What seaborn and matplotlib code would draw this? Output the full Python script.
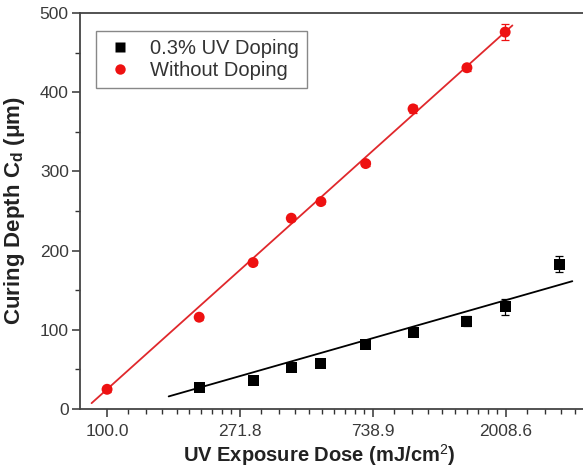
# Libraries
# =====================================================================
import numpy as np
import pandas as pd
import seaborn as sns
import matplotlib.pyplot as plt
import matplotlib.ticker as ticker
from matplotlib.lines import Line2D

# Data
# =====================================================================
dose_red = [100, 200, 300, 400, 500, 700, 1000, 1500, 2000]
depth_red = [25, 116, 185, 241, 262, 310, 379, 431, 476]
err_red = [3, 3, 3, 3, 3, 3, 5, 4, 10]

dose_blk = [200, 300, 400, 500, 700, 1000, 1500, 2000, 3000]
depth_blk = [27, 36, 52, 58, 82, 97, 111, 129, 183]
err_blk = [3, 3, 4, 3, 4, 5, 6, 10, 10]

# Linear fits of depth vs ln(dose): slope, intercept
fit_red = [150.6, -668.5]
fit_blk = [47.9, -226.8]
fit_range_red = [89, 2112]
fit_range_blk = [159, 3315]

tick_labels = ['100.0', '271.8', '738.9', '2008.6']
series_names = ['0.3% UV Doping', 'Without Doping']

df = pd.concat([
    pd.DataFrame({'dose': dose_blk, 'depth': depth_blk, 'err': err_blk, 'series': series_names[0]}),
    pd.DataFrame({'dose': dose_red, 'depth': depth_red, 'err': err_red, 'series': series_names[1]}),
], ignore_index=True)

# Data Visualization
# =====================================================================
sns.set_theme(style='ticks')
plt.rcParams['font.family'] = ['Liberation Sans', 'DejaVu Sans']
plt.rcParams['mathtext.fontset'] = 'custom'
plt.rcParams['mathtext.rm'] = 'Liberation Sans'
plt.rcParams['mathtext.bf'] = 'Liberation Sans:bold'
plt.rcParams['mathtext.it'] = 'Liberation Sans:italic'

fig = plt.figure(figsize=(5.83, 4.67), dpi=100)
ax = fig.add_axes([0.137, 0.124, 0.866, 0.848])
ax.set_xscale('log')

colors = {series_names[0]: 'black', series_names[1]: '#ee1111'}
line_colors = {series_names[0]: 'black', series_names[1]: '#e0282c'}
markers = {series_names[0]: 's', series_names[1]: 'o'}

# Fit lines
for name, fit, rng in [(series_names[1], fit_red, fit_range_red), (series_names[0], fit_blk, fit_range_blk)]:
    xs = np.array(rng, dtype=float)
    ax.plot(xs, fit[0] * np.log(xs) + fit[1], color=line_colors[name], lw=1.3, zorder=2)

# Error bars
for name, sub in df.groupby('series'):
    ax.errorbar(sub['dose'], sub['depth'], yerr=sub['err'], fmt='none',
                ecolor=colors[name], elinewidth=0.9, capsize=3, capthick=0.9, zorder=3)

# Points
sns.scatterplot(data=df, x='dose', y='depth', hue='series', style='series',
                palette=colors, markers=markers, s=62, edgecolor='none',
                legend=False, ax=ax, zorder=4)

# Axes limits and ticks
ax.set_xlim(81.5, 3640)
ax.set_ylim(0, 500)
major = [float(t) for t in tick_labels]
ax.xaxis.set_major_locator(ticker.FixedLocator(major))
ax.xaxis.set_major_formatter(ticker.FixedFormatter(tick_labels))
minor = []
edges = major + [major[-1] * np.e]
for a, b in zip(edges[:-1], edges[1:]):
    minor += list(np.linspace(a, b, 11)[1:-1])
ax.xaxis.set_minor_locator(ticker.FixedLocator([m for m in minor if m < 3640]))
ax.xaxis.set_minor_formatter(ticker.NullFormatter())
ax.yaxis.set_major_locator(ticker.MultipleLocator(100))
ax.yaxis.set_minor_locator(ticker.MultipleLocator(50))

ax.tick_params(axis='both', which='major', direction='out', length=6, width=1.1,
               labelsize=12.5, labelcolor='#3a3a3a', color='#333333')
ax.tick_params(axis='x', which='major', pad=5)
ax.tick_params(axis='y', which='major', pad=2)
ax.tick_params(axis='both', which='minor', direction='out', length=3.5, width=1.0, color='#333333')
ax.tick_params(top=False, right=False)

for sp in ax.spines.values():
    sp.set_linewidth(1.3)
    sp.set_color('#444444')

ax.set_xlabel('UV Exposure Dose (mJ/cm$^2$)', fontsize=14.5, fontweight='bold', color='#222222')
ax.xaxis.set_label_coords(0.474, -0.083)
ax.set_ylabel(r'Curing Depth C$_\mathbf{d}$ ($\mathbf{\mu}$m)', fontsize=16, fontweight='bold', color='#222222', labelpad=9)

# Legend
handles = [Line2D([0], [0], marker=markers[n], color='none', markerfacecolor=colors[n],
                  markeredgecolor='none', markersize=7.5, label=n) for n in series_names]
leg = ax.legend(handles=handles, loc='upper left', bbox_to_anchor=(0.032, 0.955), fontsize=14.5,
                frameon=True, fancybox=False, framealpha=1, edgecolor='#888888',
                handletextpad=0.7, borderpad=0.4, labelspacing=0.15, handlelength=1.6,
                borderaxespad=0)
leg.get_frame().set_linewidth(1.0)
for t in leg.get_texts():
    t.set_color('#333333')

fig.savefig('out.png', dpi=100)
